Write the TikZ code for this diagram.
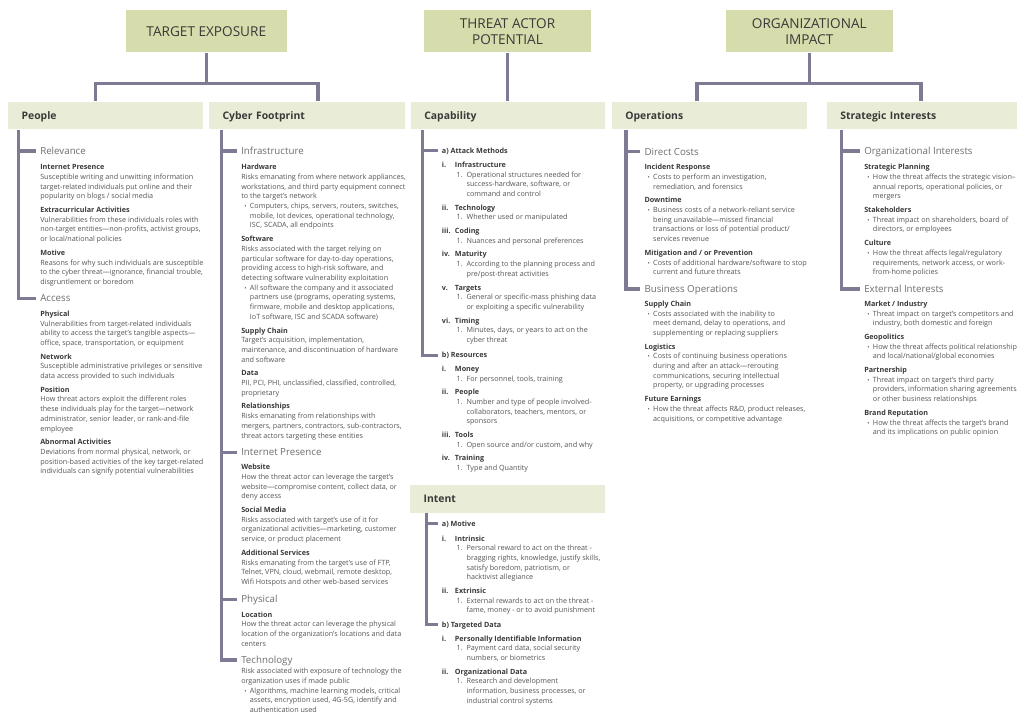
\documentclass[tikz,border=0pt]{standalone}
\usepackage{fontspec}
\setmainfont{Open Sans}
\definecolor{topgreen}{RGB}{214,220,171}
\definecolor{subgreen}{RGB}{233,236,214}
\definecolor{linec}{RGB}{125,123,148}
\definecolor{titlec}{RGB}{58,58,58}
\definecolor{bodyc}{RGB}{85,85,85}
\definecolor{headc}{RGB}{110,110,110}
\newcommand\bul{\makebox[6.5pt][l]{\hspace{2.3pt}{\fontsize{4.5}{4.5}\selectfont\textbullet}}}
\newcommand\bcont{\hspace*{6.5pt}}
\newcommand\rn[2]{\makebox[9.75pt][l]{\bfseries\color{titlec}#1}{\bfseries\color{titlec}#2}}
\newcommand\nm{\hspace*{11pt}\makebox[7.5pt][l]{1.}}
\newcommand\ncont{\hspace*{18.5pt}}
\newcommand\hd[1]{{\bfseries\color{titlec}#1}}
\newcommand\blk[1]{\begin{tabular}[t]{@{}l@{}}#1\end{tabular}}
\tikzset{
  topbox/.style={fill=topgreen, inner sep=0, align=center, minimum height=31.7pt,
    font=\fontsize{10.2}{12}\selectfont, text=titlec},
  subbox/.style={fill=subgreen, anchor=west, inner ysep=0, inner xsep=10pt, align=left,
    minimum height=20.7pt, text height=5.6pt, text depth=0pt,
    font=\bfseries\fontsize{7.8}{9}\selectfont, text=titlec},
  conn/.style={draw=linec, line width=2.4pt},
  sechead/.style={anchor=west, inner sep=0, text height=5.2pt, text depth=0pt,
    font=\fontsize{7.3}{8}\selectfont, text=headc},
  subhead/.style={anchor=west, inner sep=0, text height=3.9pt, text depth=0pt,
    font=\bfseries\fontsize{5.4}{7}\selectfont, text=titlec},
  bodytext/.style={anchor=base west, inner sep=0, font=\fontsize{5.4}{7.28}\selectfont, text=bodyc},
}
\begin{document}
\begin{tikzpicture}[x=0.75pt,y=-0.75pt]
\useasboundingbox (0,0) rectangle (1025,720);
\fill[white] (0,0) rectangle (1025,720);

% top boxes
\node[topbox, minimum width=120.5pt] (te) at (206.3,31.15) {TARGET EXPOSURE};
\node[topbox, minimum width=124.8pt] (tap) at (507.5,31.15) {THREAT ACTOR\\POTENTIAL};
\node[topbox, minimum width=125pt] (oi) at (809.3,31.15) {ORGANIZATIONAL\\IMPACT};

% second level boxes
\node[subbox, text width=126pt] (people) at (8,115.5) {People};
\node[subbox, text width=127pt] (cyber) at (209,115.5) {Cyber Footprint};
\node[subbox, text width=125.7pt] (cap) at (410.7,115.5) {Capability};
\node[subbox, text width=126.25pt] (ops) at (611.7,115.5) {Operations};
\node[subbox, text width=122.5pt] (strat) at (826.7,115.5) {Strategic Interests};
\node[subbox, text width=126.25pt, minimum height=21pt] (intent) at (410,499) {Intent};

% top connectors
\coordinate (jte) at ([yshift=-23.25pt]te.south);
\coordinate (joi) at ([yshift=-23.25pt]oi.south);
\draw[conn] (te.south) -- (jte);
\draw[conn] ([xshift=-7.8pt]people.north) |- (jte) -| ([xshift=8pt]cyber.north);
\draw[conn] (tap.south) -- (tap.south |- cap.north);
\draw[conn] (oi.south) -- (joi);
\draw[conn] ([xshift=-9.4pt]ops.north) |- (joi) -| ([xshift=-0.75pt]strat.north);

% ===== People =====
\node[sechead] (rel) at (40,151) {Relevance};
\node[sechead] (acc) at (40,298.3) {Access};
\node[bodytext] (relb) at (40,169.7) {\blk{%
\hd{Internet Presence}\\
Susceptible writing and unwitting information\\
target-related individuals put online and their\\
popularity on blogs / social media\\[3pt]
\hd{Extracurricular Activities}\\
Vulnerabilities from these individuals roles with\\
non-target entities—non-profits, activist groups,\\
or local/national policies\\[3pt]
\hd{Motive}\\
Reasons for why such individuals are susceptible\\
to the cyber threat—ignorance, financial trouble,\\
disgruntlement or boredom}};
\node[bodytext] (accb) at (40,316.3) {\blk{%
\hd{Physical}\\
Vulnerabilities from target-related individuals\\
ability to access the target’s tangible aspects—\\
office, space, transportation, or equipment\\[3pt]
\hd{Network}\\
Susceptible administrative privileges or sensitive\\
data access provided to such individuals\\[3pt]
\hd{Position}\\
How threat actors exploit the different roles\\
these individuals play for the target—network\\
administrator, senior leader, or rank-and-file\\
employee\\[3pt]
\hd{Abnormal Activities}\\
Deviations from normal physical, network, or\\
position-based activities of the key target-related\\
individuals can signify potential vulnerabilities}};
\draw[conn] ([xshift=7.7pt]people.south west) |- ([xshift=-3pt]acc.west);
\draw[conn] ([xshift=7.7pt]people.south west |- rel.west) -- ([xshift=-3pt]rel.west);

% ===== Cyber Footprint =====
\node[sechead] (infra) at (241,151) {Infrastructure};
\node[sechead] (inet) at (241,452.3) {Internet Presence};
\node[sechead] (phys) at (241,599.3) {Physical};
\node[sechead] (tech) at (241,660) {Technology};
\node[bodytext] (infrab) at (241,169.7) {\blk{%
\hd{Hardware}\\
Risks emanating from where network appliances,\\
workstations, and third party equipment connect\\
to the target’s network\\
\bul Computers, chips, servers, routers, switches,\\
\bcont mobile, Iot devices, operational technology,\\
\bcont ISC, SCADA, all endpoints\\[3pt]
\hd{Software}\\
Risks associated with the target relying on\\
particular software for day-to-day operations,\\
providing access to high-risk software, and\\
detecting software vulnerability exploitation\\
\bul All software the company and it associated\\
\bcont partners use (programs, operating systems,\\
\bcont firmware, mobile and desktop applications,\\
\bcont IoT software, ISC and SCADA software)\\[3pt]
\hd{Supply Chain}\\
Target’s acquisition, implementation,\\
maintenance, and discontinuation of hardware\\
and software\\[3pt]
\hd{Data}\\
PII, PCI, PHI, unclassified, classified, controlled,\\
proprietary\\[3pt]
\hd{Relationships}\\
Risks emanating from relationships with\\
mergers, partners, contractors, sub-contractors,\\
threat actors targeting these entities}};
\node[bodytext] (inetb) at (241,469.7) {\blk{%
\hd{Website}\\
How the threat actor can leverage the target’s\\
website—compromise content, collect data, or\\
deny access\\[3pt]
\hd{Social Media}\\
Risks associated with target’s use of it for\\
organizational activities—marketing, customer\\
service, or product placement\\[3pt]
\hd{Additional Services}\\
Risks emanating from the target’s use of FTP,\\
Telnet, VPN, cloud, webmail, remote desktop,\\
Wifi Hotspots and other web-based services}};
\node[bodytext] (physb) at (241,617) {\blk{%
\hd{Location}\\
How the threat actor can leverage the physical\\
location of the organization’s locations and data\\
centers}};
\node[bodytext] (techb) at (241,673.7) {\blk{%
Risk associated with exposure of technology the\\
organization uses if made public\\
\bul Algorithms, machine learning models, critical\\
\bcont assets, encryption used, 4G-5G, identify and\\
\bcont authentication used}};
\draw[conn] ([xshift=9.4pt]cyber.south west) |- ([xshift=-3pt]tech.west);
\draw[conn] ([xshift=9.4pt]cyber.south west |- infra.west) -- ([xshift=-3pt]infra.west);
\draw[conn] ([xshift=9.4pt]cyber.south west |- inet.west) -- ([xshift=-3pt]inet.west);
\draw[conn] ([xshift=9.4pt]cyber.south west |- phys.west) -- ([xshift=-3pt]phys.west);

% ===== Capability =====
\node[subhead] (am) at (441.7,150.5) {a) Attack Methods};
\node[subhead] (res) at (441.7,355.2) {b) Resources};
\node[bodytext] (amb) at (441.7,167.3) {\blk{%
\rn{i.}{Infrastructure}\\
\nm Operational structures needed for\\
\ncont success-hardware, software, or\\
\ncont command and control\\[3pt]
\rn{ii.}{Technology}\\
\nm Whether used or manipulated\\[3pt]
\rn{iii.}{Coding}\\
\nm Nuances and personal preferences\\[3pt]
\rn{iv.}{Maturity}\\
\nm According to the planning process and\\
\ncont pre/post-threat activities\\[3pt]
\rn{v.}{Targets}\\
\nm General or specific-mass phishing data\\
\ncont or exploiting a specific vulnerability\\[3pt]
\rn{vi.}{Timing}\\
\nm Minutes, days, or years to act on the\\
\ncont cyber threat}};
\node[bodytext] (resb) at (441.7,371.3) {\blk{%
\rn{i.}{Money}\\
\nm For personnel, tools, training\\[3pt]
\rn{ii.}{People}\\
\nm Number and type of people involved-\\
\ncont collaborators, teachers, mentors, or\\
\ncont sponsors\\[3pt]
\rn{iii.}{Tools}\\
\nm Open source and/or custom, and why\\[3pt]
\rn{iv.}{Training}\\
\nm Type and Quantity}};
\draw[conn] ([xshift=9pt]cap.south west) |- ([xshift=-3pt]res.west);
\draw[conn] ([xshift=9pt]cap.south west |- am.west) -- ([xshift=-3pt]am.west);

% ===== Intent =====
\node[subhead] (mot) at (441.7,523.8) {a) Motive};
\node[subhead] (td) at (441.7,624.5) {b) Targeted Data};
\node[bodytext] (motb) at (441.7,541) {\blk{%
\rn{i.}{Intrinsic}\\
\nm Personal reward to act on the threat -\\
\ncont bragging rights, knowledge, justify skills,\\
\ncont satisfy boredom, patriotism, or\\
\ncont hacktivist allegiance\\[3pt]
\rn{ii.}{Extrinsic}\\
\nm External rewards to act on the threat -\\
\ncont fame, money - or to avoid punishment}};
\node[bodytext] (tdb) at (441.7,641) {\blk{%
\rn{i.}{Personally Identifiable Information}\\
\nm Payment card data, social security\\
\ncont numbers, or biometrics\\[3pt]
\rn{ii.}{Organizational Data}\\
\nm Research and development\\
\ncont information, business processes, or\\
\ncont industrial control systems}};
\draw[conn] ([xshift=12.4pt]intent.south west) |- ([xshift=-3pt]td.west);
\draw[conn] ([xshift=12.4pt]intent.south west |- mot.west) -- ([xshift=-3pt]mot.west);

% ===== Operations =====
\node[sechead] (dc) at (644.3,151.7) {Direct Costs};
\node[sechead] (bo) at (644.3,289) {Business Operations};
\node[bodytext] (dcb) at (644.3,169.7) {\blk{%
\hd{Incident Response}\\
\bul Costs to perform an investigation,\\
\bcont remediation, and forensics\\[3pt]
\hd{Downtime}\\
\bul Business costs of a network-reliant service\\
\bcont being unavailable—missed financial\\
\bcont transactions or loss of potential product/\\
\bcont services revenue\\[3pt]
\hd{Mitigation and / or Prevention}\\
\bul Costs of additional hardware/software to stop\\
\bcont current and future threats}};
\node[bodytext] (bob) at (644.3,306.3) {\blk{%
\hd{Supply Chain}\\
\bul Costs associated with the inability to\\
\bcont meet demand, delay to operations, and\\
\bcont supplementing or replacing suppliers\\[3pt]
\hd{Logistics}\\
\bul Costs of continuing business operations\\
\bcont during and after an attack—rerouting\\
\bcont communications, securing intellectual\\
\bcont property, or upgrading processes\\[3pt]
\hd{Future Earnings}\\
\bul How the threat affects R\&D, product releases,\\
\bcont acquisitions, or competitive advantage}};
\draw[conn] ([xshift=10.7pt]ops.south west) |- ([xshift=-3pt]bo.west);
\draw[conn] ([xshift=10.7pt]ops.south west |- dc.west) -- ([xshift=-3pt]dc.west);

% ===== Strategic Interests =====
\node[sechead] (oint) at (864,151) {Organizational Interests};
\node[sechead] (eint) at (864,289) {External Interests};
\node[bodytext] (ointb) at (864,169.7) {\blk{%
\hd{Strategic Planning}\\
\bul How the threat affects the strategic vision–\\
\bcont annual reports, operational policies, or\\
\bcont mergers\\[3pt]
\hd{Stakeholders}\\
\bul Threat impact on shareholders, board of\\
\bcont directors, or employees\\[3pt]
\hd{Culture}\\
\bul How the threat affects legal/regulatory\\
\bcont requirements, network access, or work-\\
\bcont from-home policies}};
\node[bodytext] (eintb) at (864,306.3) {\blk{%
\hd{Market / Industry}\\
\bul Threat impact on target’s competitors and\\
\bcont industry, both domestic and foreign\\[3pt]
\hd{Geopolitics}\\
\bul How the threat affects political relationship\\
\bcont and local/national/global economies\\[3pt]
\hd{Partnership}\\
\bul Threat impact on target’s third party\\
\bcont providers, information sharing agreements\\
\bcont or other business relationships\\[3pt]
\hd{Brand Reputation}\\
\bul How the threat affects the target’s brand\\
\bcont and its implications on public opinion}};
\draw[conn] ([xshift=11.1pt]strat.south west) |- ([xshift=-3pt]eint.west);
\draw[conn] ([xshift=11.1pt]strat.south west |- oint.west) -- ([xshift=-3pt]oint.west);
\end{tikzpicture}
\end{document}
